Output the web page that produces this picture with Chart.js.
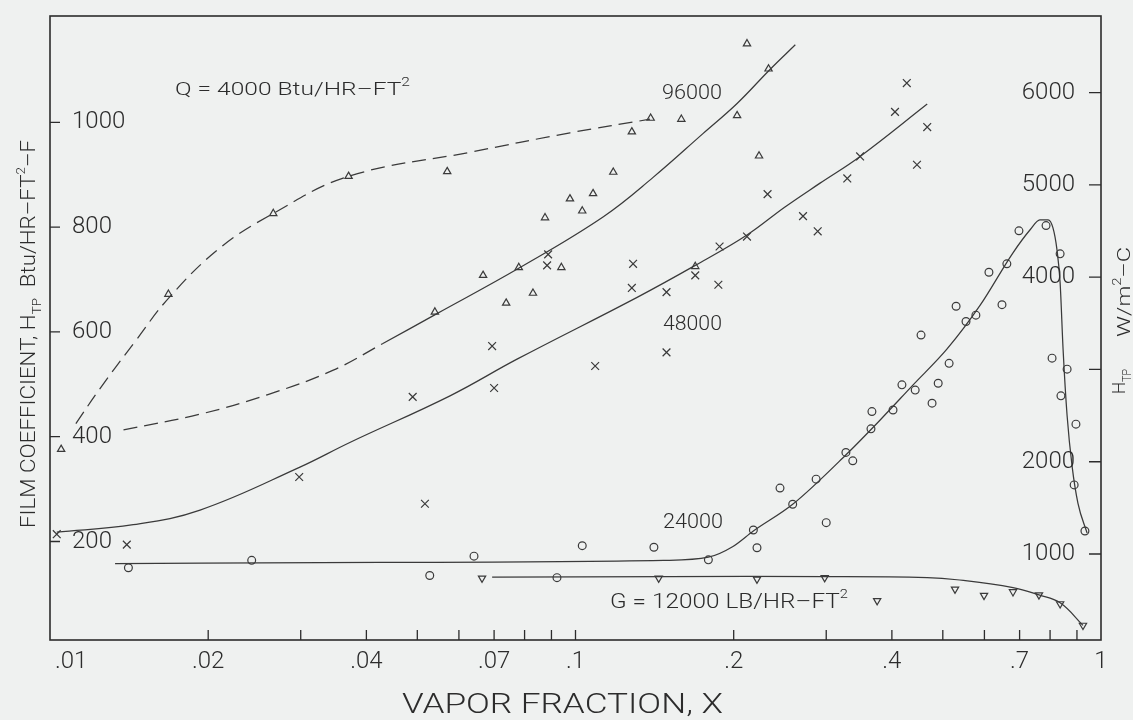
<!DOCTYPE html>
<html>
<head>
<meta charset="utf-8">
<title>Film coefficient vs vapor fraction</title>
<script src="https://cdn.jsdelivr.net/npm/chart.js@4.4.1/dist/chart.umd.min.js"></script>
<style>
  html, body { margin: 0; padding: 0; background: #eff1f0; }
  #wrap { width: 1133px; height: 720px; }
</style>
</head>
<body>
<div id="wrap"><canvas id="chart"></canvas></div>
<script>
// vapor fraction X and film coefficient H_TP (Btu/hr-ft2-F)
const triX = [0.0105, 0.0168, 0.0266, 0.037, 0.054, 0.057, 0.0667, 0.0738, 0.078, 0.083, 0.0875, 0.094, 0.0976, 0.103, 0.108, 0.118, 0.128, 0.139, 0.159, 0.169, 0.203, 0.212, 0.2235, 0.233];
const triY = [376, 672, 826, 897, 638, 906, 708, 655, 723, 674, 818, 723, 854, 831, 864, 905, 982, 1008, 1006, 725, 1013, 1150, 936, 1102];

const crossX = [0.0103, 0.014, 0.0298, 0.049, 0.0517, 0.0694, 0.070, 0.0883, 0.0887, 0.109, 0.128, 0.1287, 0.149, 0.149, 0.169, 0.187, 0.188, 0.212, 0.232, 0.271, 0.289, 0.329, 0.348, 0.4055, 0.427, 0.4465, 0.467];
const crossY = [214, 194, 323, 476, 272, 573, 493, 727, 748, 535, 684, 730, 676, 561, 708, 690, 763, 782, 863, 821, 792, 893, 935, 1020, 1075, 919, 991];

const circX = [0.0141, 0.0242, 0.0528, 0.0641, 0.0922, 0.103, 0.141, 0.179, 0.218, 0.2215, 0.245, 0.259, 0.287, 0.300, 0.327, 0.337, 0.365, 0.3665, 0.402, 0.418, 0.443, 0.4545, 0.477, 0.490, 0.514, 0.530, 0.5535, 0.578, 0.612, 0.648, 0.662, 0.698, 0.786, 0.807, 0.836, 0.839, 0.862, 0.889, 0.896, 0.932];
const circY = [150, 164, 135, 172, 131, 192, 189, 165, 222, 188, 302, 271, 319, 236, 370, 354, 415, 448, 451, 499, 489, 594, 464, 502, 540, 649, 620, 632, 714, 652, 730, 793, 803, 550, 749, 478, 529, 308, 424, 220];

const invX = [0.0664, 0.144, 0.2215, 0.298, 0.375, 0.5275, 0.599, 0.680, 0.762, 0.836, 0.924];
const invY = [130, 130, 128, 131, 87, 109, 97, 104, 98, 81, 40];

// fitted curves
const qDashX = [0.0112, 0.01245, 0.0145, 0.0169, 0.0211, 0.0266, 0.037, 0.063, 0.0976, 0.1386];
const qDashY = [425, 492, 581, 667, 761, 826, 897, 943, 980, 1006];

const c96X = [0.0138, 0.0193, 0.0259, 0.0346, 0.043, 0.0545, 0.0784, 0.113, 0.1405, 0.175, 0.203, 0.234, 0.262];
const c96Y = [413, 443, 480, 527, 578, 635, 723, 820, 895, 979, 1036, 1100, 1148];

const c48X = [0.0103, 0.0144, 0.0193, 0.0299, 0.0372, 0.0577, 0.0774, 0.131, 0.169, 0.212, 0.25, 0.292, 0.348, 0.467];
const c48Y = [218, 232, 260, 342, 389, 478, 548, 666, 727, 785, 838, 884, 935, 1035];

const c24X = [0.0133, 0.0425, 0.147, 0.179, 0.199, 0.218, 0.259, 0.329, 0.380, 0.439, 0.509, 0.589, 0.680, 0.733, 0.765, 0.793, 0.810, 0.8245, 0.836, 0.847, 0.862, 0.881, 0.904, 0.941];
const c24Y = [158, 160, 164, 170, 190, 220, 271, 368, 432, 499, 567, 651, 751, 795, 814, 814, 799, 757, 694, 566, 440, 344, 273, 216];

const c12X = [0.0694, 0.15, 0.30, 0.467, 0.532, 0.68, 0.762, 0.836, 0.924];
const c12Y = [132, 133, 133, 131, 127, 112, 98, 83, 40];

// axes
const xMinorTicks = [0.02, 0.03, 0.04, 0.05, 0.06, 0.07, 0.08, 0.09, 0.1, 0.2, 0.3, 0.4, 0.5, 0.6, 0.7, 0.8, 0.9];
const xLabelVals = [0.01, 0.02, 0.04, 0.07, 0.1, 0.2, 0.4, 0.7, 1];
const xLabels = [".01", ".02", ".04", ".07", ".1", ".2", ".4", ".7", "1"];
const yTicks = [200, 400, 600, 800, 1000];
const y2Ticks = [1000, 2000, 3000, 4000, 5000, 6000];
const y2Labels = ["1000", "2000", "", "4000", "5000", "6000"];

const WM2 = 5.678; // Btu/hr-ft2-F -> W/m2-C
const ink = "#2c2c2c";
const lineInk = "#3a3a3a";
const FONT = "Roboto";

const pts = (xs, ys) => xs.map((x, i) => ({ x: x, y: ys[i] }));

function marks(xs, ys, style, radius, rotation) {
  return {
    data: pts(xs, ys),
    showLine: false,
    pointStyle: style,
    pointRadius: radius,
    pointRotation: rotation || 0,
    pointBorderColor: lineInk,
    pointBackgroundColor: "rgba(0,0,0,0)",
    pointBorderWidth: 1.2
  };
}

function curve(xs, ys, dash, mode) {
  return {
    data: pts(xs, ys),
    showLine: true,
    pointRadius: 0,
    borderColor: lineInk,
    borderWidth: 1.25,
    borderDash: dash || [],
    tension: 0.4,
    cubicInterpolationMode: mode || "default",
    fill: false
  };
}

function richText(ctx, parts, size, x, y, angle, target) {
  const small = Math.round(size * 0.62);
  const fontOf = p => "300 " + (p.sub || p.sup ? small : size) + "px " + FONT;
  ctx.save();
  ctx.translate(x, y);
  ctx.rotate(angle);
  ctx.textAlign = "left";
  ctx.textBaseline = "alphabetic";
  let w = 0;
  parts.forEach(p => { ctx.font = fontOf(p); w += ctx.measureText(p.t).width; });
  ctx.scale(target ? target / w : 1, 1);
  let cx = 0;
  parts.forEach(p => {
    ctx.font = fontOf(p);
    const dy = p.sub ? size * 0.3 : p.sup ? -size * 0.5 : 0;
    ctx.fillText(p.t, cx, dy);
    cx += ctx.measureText(p.t).width;
  });
  ctx.restore();
}

// curve labels, anchored in data coordinates (left edge, baseline)
const notes = [
  { parts: [{ t: "Q = 4000 Btu/HR–FT" }, { t: "2", sup: true }], x: 0.01729, y: 1052, size: 19, w: 235 },
  { parts: [{ t: "96000" }], x: 0.1461, y: 1044, size: 21, w: 60 },
  { parts: [{ t: "48000" }], x: 0.1467, y: 603, size: 21, w: 59 },
  { parts: [{ t: "24000" }], x: 0.1467, y: 225, size: 21, w: 60 },
  { parts: [{ t: "G = 12000 LB/HR–FT" }, { t: "2", sup: true }], x: 0.1163, y: 74, size: 20, w: 238 }
];

const frame = {
  id: "frame",
  beforeDraw(chart) {
    const ctx = chart.ctx;
    ctx.save();
    ctx.fillStyle = "#eff1f0";
    ctx.fillRect(0, 0, chart.width, chart.height);
    ctx.restore();
  },
  afterDraw(chart) {
    const ctx = chart.ctx;
    const a = chart.chartArea;
    const { x, y, y2 } = chart.scales;
    ctx.save();
    ctx.strokeStyle = ink;
    ctx.lineWidth = 1.6;
    ctx.strokeRect(a.left, a.top, a.right - a.left, a.bottom - a.top);

    ctx.lineWidth = 1.3;
    ctx.beginPath();
    xMinorTicks.forEach(v => {
      const px = x.getPixelForValue(v);
      ctx.moveTo(px, a.bottom);
      ctx.lineTo(px, a.bottom - 10);
    });
    yTicks.forEach(v => {
      const py = y.getPixelForValue(v);
      ctx.moveTo(a.left, py);
      ctx.lineTo(a.left + 10, py);
    });
    y2Ticks.forEach(v => {
      const py = y2.getPixelForValue(v);
      ctx.moveTo(a.right, py);
      ctx.lineTo(a.right - 12, py);
    });
    ctx.stroke();

    ctx.fillStyle = ink;
    ctx.font = "300 24px " + FONT;
    ctx.textBaseline = "middle";
    ctx.textAlign = "left";
    yTicks.forEach(v => ctx.fillText(String(v), a.left + 22, y.getPixelForValue(v)));
    ctx.textAlign = "right";
    y2Ticks.forEach((v, i) => ctx.fillText(y2Labels[i], a.right - 26, y2.getPixelForValue(v)));
    ctx.textAlign = "center";
    xLabelVals.forEach((v, i) => {
      const t = xLabels[i];
      const w = ctx.measureText(t).width;
      const cx = Math.max(x.getPixelForValue(v), a.left + 5 + w / 2);
      ctx.fillText(t, cx, a.bottom + 22);
    });

    richText(ctx, [{ t: "VAPOR FRACTION, X" }], 28, 402, 713, 0, 321);
    richText(ctx, [{ t: "FILM COEFFICIENT, H" }, { t: "TP", sub: true }, { t: "  Btu/HR–FT" }, { t: "2", sup: true }, { t: "–F" }],
      20, 35, 528, -Math.PI / 2, 388);
    richText(ctx, [{ t: "H" }, { t: "TP", sub: true }], 19, 1125, 394, -Math.PI / 2, 25);
    richText(ctx, [{ t: "W/m" }, { t: "2", sup: true }, { t: "–C" }], 19, 1130, 337, -Math.PI / 2, 90);

    notes.forEach(n => {
      richText(ctx, n.parts, n.size, x.getPixelForValue(n.x), y.getPixelForValue(n.y), 0, n.w);
    });
    ctx.restore();
  }
};

new Chart(document.getElementById("chart"), {
  type: "line",
  data: {
    datasets: [
      curve(qDashX, qDashY, [14, 7]),
      Object.assign(curve(c96X, c96Y), {
        segment: { borderDash: ctx => (ctx.p1.parsed.x <= 0.043 ? [14, 7] : undefined) }
      }),
      curve(c48X, c48Y),
      curve(c24X, c24Y, null, "monotone"),
      curve(c12X, c12Y),
      marks(triX, triY, "triangle", 4.2),
      marks(crossX, crossY, "crossRot", 5.5),
      marks(circX, circY, "circle", 3.9),
      marks(invX, invY, "triangle", 4.2, 180)
    ]
  },
  options: {
    responsive: true,
    maintainAspectRatio: false,
    animation: false,
    devicePixelRatio: 1,
    layout: { padding: { left: 50, right: 32, top: 16, bottom: 80 } },
    plugins: { legend: { display: false }, tooltip: { enabled: false } },
    scales: {
      x: { type: "logarithmic", min: 0.01, max: 1, display: false },
      y: { type: "linear", min: 12, max: 1203, display: false },
      y2: { type: "linear", position: "right", min: 12 * WM2, max: 1203 * WM2, display: false }
    }
  },
  plugins: [frame]
});
</script>
</body>
</html>
